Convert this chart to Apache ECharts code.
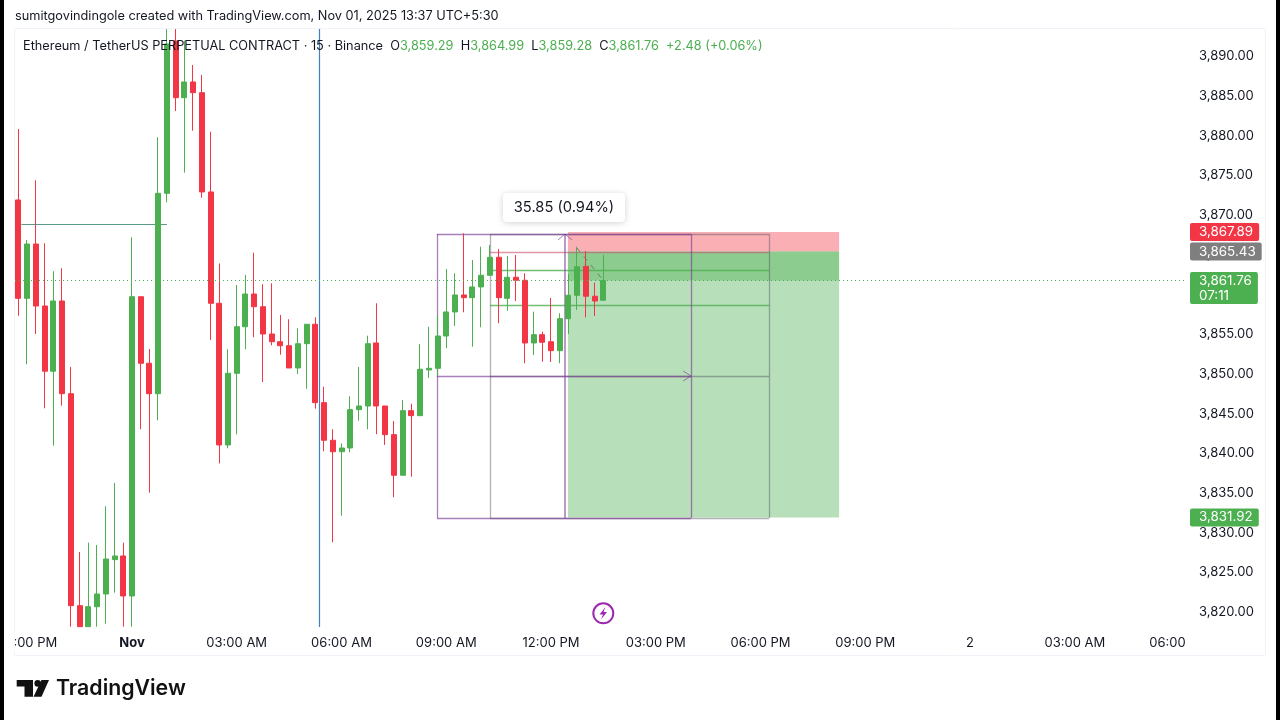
<!DOCTYPE html>
<html>
<head>
<meta charset="utf-8">
<style>
  html, body { margin: 0; padding: 0; background: #fff; }
  #main { width: 1280px; height: 720px; }
</style>
<script src="https://cdn.jsdelivr.net/npm/echarts@6/dist/echarts.min.js"></script>
</head>
<body>
<div id="main"></div>
<script>
// bar times are minutes from Nov 1 00:00, one bar every 15 minutes
// bars running off the pane are read at the pane edge (3818.15 and 3893.45)
var firstBarMinute = -195;
var opens = [3871.92,3859.53,3866.37,3858.56,3850.34,3859.19,3847.51,3820.80,3818.15,3820.67,3822.27,3826.60,3827.06,3822.02,3859.73,3851.34,3847.51,3872.76,3891.95,3884.81,3886.79,3885.44,3872.93,3858.90,3841.05,3850.08,3855.95,3860.07,3858.47,3855.03,3854.06,3853.56,3850.75,3853.81,3856.26,3846.38,3841.64,3840.20,3840.67,3845.50,3845.96,3853.90,3845.96,3842.35,3837.23,3845.37,3844.74,3850.50,3850.71,3854.78,3857.81,3859.95,3859.61,3860.96,3862.43,3864.70,3859.53,3862.18,3861.80,3853.90,3854.95,3854.06,3852.93,3856.96,3859.91,3863.56,3859.79,3859.29];
var closes = [3859.53,3866.37,3858.56,3850.34,3859.19,3847.51,3820.80,3818.15,3820.67,3822.27,3826.68,3827.06,3822.02,3859.73,3851.34,3847.51,3872.76,3891.58,3884.81,3886.79,3885.44,3872.93,3858.90,3841.05,3850.08,3855.95,3860.07,3858.47,3855.03,3854.06,3853.56,3850.75,3853.81,3856.26,3846.38,3841.64,3840.20,3840.67,3845.50,3845.96,3853.81,3845.96,3842.35,3837.23,3845.37,3844.74,3850.59,3850.71,3854.78,3857.81,3859.95,3859.61,3860.96,3862.43,3864.70,3859.61,3862.18,3861.80,3853.90,3854.95,3853.99,3852.93,3856.96,3859.91,3863.51,3859.79,3859.19,3861.76];
var lows = [3857.34,3851.22,3855.03,3845.67,3840.96,3846.00,3818.15,3818.15,3818.15,3818.15,3818.53,3822.44,3818.15,3818.15,3843.03,3835.04,3844.16,3871.63,3883.13,3875.36,3880.65,3872.21,3854.28,3838.72,3840.63,3842.40,3853.11,3854.62,3848.99,3853.61,3852.43,3850.75,3849.99,3848.14,3845.62,3840.26,3828.79,3832.14,3840.13,3844.11,3843.03,3842.40,3841.05,3834.46,3837.23,3837.05,3844.74,3849.49,3849.74,3853.23,3856.04,3857.77,3853.43,3855.88,3862.43,3856.38,3857.97,3859.19,3851.34,3852.39,3851.54,3851.51,3851.34,3855.03,3858.06,3857.14,3857.30,3859.28];
var highs = [3880.87,3866.88,3874.40,3866.46,3862.94,3863.31,3850.88,3827.57,3828.74,3828.45,3833.33,3836.26,3828.74,3867.22,3859.73,3853.14,3879.82,3893.45,3893.45,3891.99,3888.93,3887.67,3880.52,3863.92,3853.11,3861.21,3862.47,3865.28,3861.30,3861.42,3857.43,3856.89,3855.75,3856.26,3857.14,3848.39,3843.03,3841.26,3847.19,3850.88,3854.82,3858.90,3845.96,3844.07,3846.72,3846.25,3853.74,3855.95,3857.43,3863.22,3862.68,3867.72,3864.36,3866.03,3866.25,3865.74,3864.86,3864.99,3862.68,3857.84,3855.32,3859.57,3857.64,3862.56,3866.03,3865.49,3861.50,3864.99];

var priceTicks = [3820,3825,3830,3835,3840,3845,3850,3855,3860,3865,3870,3875,3880,3885,3890];
var timeTicks = [-180,0,180,360,540,720,900,1080,1260,1440,1620,1800];
var timeLabels = ['09:00 PM','Nov','03:00 AM','06:00 AM','09:00 AM','12:00 PM','03:00 PM','06:00 PM','09:00 PM','2','03:00 AM','06:00 AM'];

// drawing levels on the chart
var stopPrice = 3867.89, entryPrice = 3865.43, lastPrice = 3861.76, targetPrice = 3831.92;
var positionTimes = [749, 1215];
var boxTop = 3867.63, boxMid = 3849.74, boxBottom = 3831.85;
var purpleBoxTimes = [524, 744, 960.5];
var grayBoxTimes = [615, 1094.5];
var pinkLevel = 3865.36, greenLevels = [3863.10, 3858.69];
var teal = { times: [-190, 60], price: 3868.9 };
var sessionLineTime = 322.6;

var RED = '#f23645', GREEN = '#4caf50', INK = '#131722', FONT = 'Inter';
var PURPLE = 'rgba(125,60,150,0.65)', GRAY = 'rgba(80,85,95,0.45)';
var CLEAR = 'rgba(0,0,0,0)';

var candles = opens.map(function (o, i) {
  return [firstBarMinute + i * 15, o, closes[i], lows[i], highs[i]];
});

function seg(t0, p0, t1, p1, color, width, type) {
  return { coords: [[t0, p0], [t1, p1]], lineStyle: { color: color, width: width || 1, type: type || 'solid', opacity: 1 } };
}

var pt = purpleBoxTimes, gt = grayBoxTimes;
var segments = [
  seg(teal.times[0], teal.price, teal.times[1], teal.price, '#5b9a8b', 1.2),
  seg(sessionLineTime, 3818.11, sessionLineTime, 3893.465, '#3f7fc4', 1.2),
  // gray box
  seg(gt[0], boxTop, gt[1], boxTop, GRAY, 1.3), seg(gt[0], boxBottom, gt[1], boxBottom, GRAY, 1.3),
  seg(gt[0], boxTop, gt[0], boxBottom, GRAY, 1.3), seg(gt[1], boxTop, gt[1], boxBottom, GRAY, 1.3),
  seg(gt[0], boxMid, gt[1], boxMid, GRAY, 1.3),
  seg(gt[0], pinkLevel, gt[1], pinkLevel, 'rgba(200,80,110,0.6)', 1.3),
  seg(gt[0], greenLevels[0], gt[1], greenLevels[0], 'rgba(76,175,80,0.8)', 1.3),
  seg(gt[0], greenLevels[1], gt[1], greenLevels[1], 'rgba(76,175,80,0.8)', 1.3),
  // purple box with the measure arrows
  seg(pt[0], boxTop, pt[2], boxTop, PURPLE, 1.3), seg(pt[0], boxBottom, pt[2], boxBottom, PURPLE, 1.3),
  seg(pt[0], boxTop, pt[0], boxBottom, PURPLE, 1.3), seg(pt[2], boxTop, pt[2], boxBottom, PURPLE, 1.3),
  seg(pt[1], boxTop, pt[1], boxBottom, PURPLE, 1.6), seg(pt[0], boxMid, pt[2], boxMid, PURPLE, 1.3),
  seg(732, 3866.88, pt[1], boxTop, PURPLE), seg(pt[1], boxTop, 756, 3866.88, PURPLE),
  seg(947, 3850.37, pt[2], boxMid, PURPLE), seg(pt[2], boxMid, 947, 3849.11, PURPLE),
  // small dashed trail to the last bar
  seg(764.6, 3865.87, 809.3, 3861.84, 'rgba(90,120,95,0.9)', 1, [5, 6])
];

function priceTag(price, text, bg, offsetY) {
  return {
    yAxis: price,
    lineStyle: { color: CLEAR, opacity: 1 },
    label: {
      show: true, position: 'end', distance: 5, formatter: text, backgroundColor: bg, opacity: 1,
      color: '#fff', fontFamily: FONT, fontSize: 13.4, lineHeight: offsetY ? 15 : 18,
      padding: offsetY ? [1, 6, 1, 9] : [0, 6, 0, 9], borderRadius: 2, offset: [0, offsetY || 0]
    }
  };
}

function fmt(v) {
  return v.toLocaleString('en-US', { minimumFractionDigits: 2, maximumFractionDigits: 2 });
}

var lastTag = priceTag(lastPrice, fmt(lastPrice) + '\n07:11', GREEN, 7.5);
lastTag.lineStyle = { color: GREEN, type: [1, 3], width: 1.2, opacity: 1 };

var greenArea = 'rgba(76,175,80,0.4)', redArea = 'rgba(242,54,69,0.4)';

var option = {
  animation: false,
  backgroundColor: '#fff',
  title: {
    left: 23, top: 40, padding: 0,
    text: '{k|Ethereum / TetherUS PERPETUAL CONTRACT · 15 · Binance  O}{v|3,859.29}{k|  H}{v|3,864.99}{k|  L}{v|3,859.28}{k|  C}{v|3,861.76}{v|  +2.48 (+0.06%)}',
    textStyle: {
      fontWeight: 'normal',
      rich: {
        k: { color: INK, fontFamily: FONT, fontSize: 12.75, fontWeight: 'normal' },
        v: { color: GREEN, fontFamily: FONT, fontSize: 12.75, fontWeight: 'normal' }
      }
    }
  },
  // tick labels overflow the pane on purpose, so the grid must not shrink to hold them
  grid: { left: 15, right: 95, top: 29, bottom: 93, outerBoundsMode: 'none' },
  xAxis: {
    type: 'value', min: -201, max: 1809.3,
    axisLine: { show: false }, axisTick: { show: false }, splitLine: { show: false },
    axisLabel: {
      customValues: timeTicks, margin: 10, color: INK, fontFamily: FONT, fontSize: 13, hideOverlap: false,
      showMinLabel: true, showMaxLabel: true,
      formatter: function (v) {
        var s = timeLabels[timeTicks.indexOf(v)];
        return s === 'Nov' ? '{b|Nov}' : s;
      },
      rich: { b: { fontWeight: 'bold', color: INK, fontFamily: FONT, fontSize: 13 } }
    }
  },
  yAxis: {
    type: 'value', position: 'right', min: 3818.11, max: 3893.465,
    axisLine: { show: false }, axisTick: { show: false }, splitLine: { show: false },
    axisLabel: {
      customValues: priceTicks, align: 'left', margin: 14, color: INK, fontFamily: FONT, fontSize: 13,
      formatter: fmt
    }
  },
  series: [
    {
      type: 'lines', coordinateSystem: 'cartesian2d', polyline: false, silent: true, z: 2,
      data: segments
    },
    {
      type: 'candlestick', data: candles, barWidth: 5.5, z: 3, silent: true,
      itemStyle: { color: GREEN, color0: RED, borderColor: GREEN, borderColor0: RED, borderWidth: 1 },
      markArea: {
        silent: true, z: 1,
        data: [
          [{ xAxis: positionTimes[0], yAxis: stopPrice, itemStyle: { color: redArea } }, { xAxis: positionTimes[1], yAxis: entryPrice }],
          [{ xAxis: positionTimes[0], yAxis: entryPrice, itemStyle: { color: greenArea } }, { xAxis: positionTimes[1], yAxis: targetPrice }],
          [{ xAxis: positionTimes[0], yAxis: entryPrice, itemStyle: { color: greenArea } }, { xAxis: positionTimes[1], yAxis: lastPrice }]
        ]
      },
      markLine: {
        silent: true, symbol: 'none',
        data: [
          priceTag(stopPrice, fmt(stopPrice), RED),
          priceTag(entryPrice, fmt(entryPrice), '#7f7f7f'),
          lastTag,
          priceTag(targetPrice, fmt(targetPrice), GREEN)
        ]
      }
    }
  ],
  graphic: [
    { type: 'rect', z: 40, silent: true, shape: { x: 14.5, y: 28.5, width: 1251, height: 627 }, style: { fill: 'none', stroke: '#f0f3fa' } },
    // the pane cuts the tick labels on both sides
    { type: 'rect', z: 50, silent: true, shape: { x: 0, y: 632, width: 14.5, height: 20 }, style: { fill: '#fff' } },
    { type: 'rect', z: 50, silent: true, shape: { x: 1186, y: 632, width: 78, height: 20 }, style: { fill: '#fff' } },
    { type: 'text', z: 60, silent: true, x: 15, y: 10, style: { text: 'sumitgovindingole created with TradingView.com, Nov 01, 2025 13:37 UTC+5:30', fill: INK, font: '12.74px Inter' } },
    // measure label
    { type: 'rect', z: 60, silent: true, shape: { x: 503, y: 193, width: 122, height: 29, r: 4 }, style: { fill: '#fff', shadowBlur: 6, shadowColor: 'rgba(0,0,0,0.18)', shadowOffsetY: 1 } },
    { type: 'text', z: 61, silent: true, x: 564, y: 208, style: { text: '35.85 (0.94%)', fill: INK, font: '14.7px Inter', align: 'center', verticalAlign: 'middle' } },
    // lightning badge
    { type: 'circle', z: 60, silent: true, shape: { cx: 603.3, cy: 613.3, r: 10 }, style: { fill: '#fff', stroke: '#9c27b0', lineWidth: 2 } },
    { type: 'polygon', z: 61, silent: true, shape: { points: [[605.5, 607], [599.5, 614.5], [603, 614.5], [601, 619.5], [607, 612], [603.5, 612]] }, style: { fill: '#9c27b0' } },
    // TradingView logo
    { type: 'polygon', z: 60, silent: true, shape: { points: [[16.7, 680], [33, 680], [33, 696.7], [24.5, 696.7], [24.5, 686.5], [16.7, 686.5]] }, style: { fill: '#111' } },
    { type: 'circle', z: 60, silent: true, shape: { cx: 37.7, cy: 683.4, r: 3.3 }, style: { fill: '#111' } },
    { type: 'polygon', z: 60, silent: true, shape: { points: [[41.5, 680], [49, 680], [41.5, 696.7], [33.5, 696.7]] }, style: { fill: '#111' } },
    { type: 'text', z: 60, silent: true, x: 56, y: 689, style: { text: 'TradingView', fill: '#111', font: '600 21.3px Inter', verticalAlign: 'middle' } },
    // video edge
    { type: 'rect', z: 100, silent: true, shape: { x: 0, y: 0, width: 4, height: 720 }, style: { fill: '#000' } },
    { type: 'rect', z: 100, silent: true, shape: { x: 1276, y: 0, width: 4, height: 720 }, style: { fill: '#000' } }
  ]
};

var myChart = echarts.init(document.getElementById('main'));
myChart.setOption(option);
</script>
</body>
</html>
